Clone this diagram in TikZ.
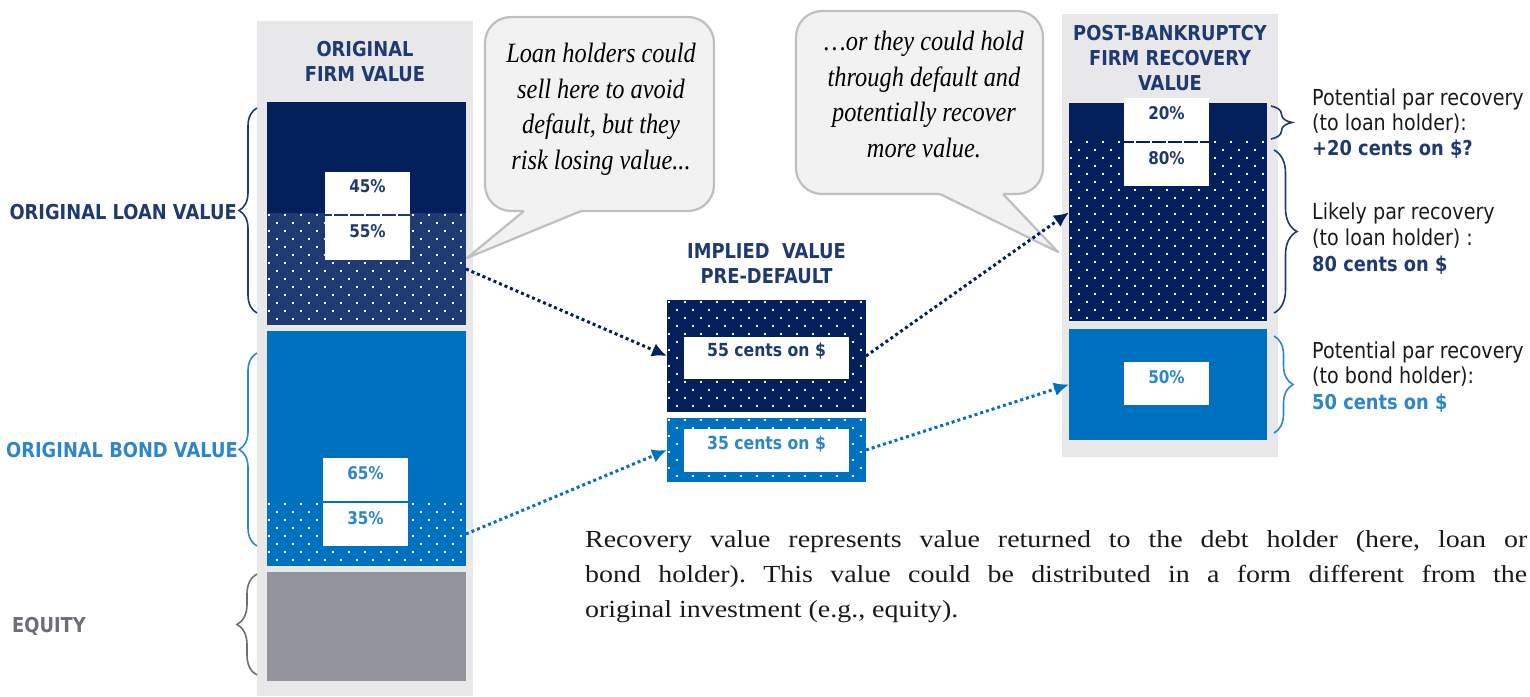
\documentclass[tikz,border=0pt]{standalone}
\usepackage{fontspec}
\usetikzlibrary{arrows.meta,decorations.pathreplacing,fit,calc}

\newfontfamily\labelfont[FakeStretch=0.87]{DejaVu Sans}
\newfontfamily\notefont[FakeStretch=0.87]{Liberation Serif Italic}
\newfontfamily\bodyfont[FakeStretch=1.14]{Liberation Serif}

\definecolor{colbg}{HTML}{E8E8EA}
\definecolor{navy}{HTML}{04205C}
\definecolor{navymid}{HTML}{1F3A72}
\definecolor{bondblue}{HTML}{0070C0}
\definecolor{txtnavy}{HTML}{1F3A70}
\definecolor{txtblue}{HTML}{2E86C8}
\definecolor{eqgray}{HTML}{94949C}
\definecolor{eqtext}{HTML}{6E6E78}
\definecolor{bubblefill}{HTML}{F2F2F2}
\definecolor{bubbleline}{HTML}{BEBEC3}
\definecolor{bodytext}{HTML}{1A1A1A}

% staggered white dot raster clipped to a rectangle: x1 y1 x2 y2
\newcommand\dotfield[4]{%
  \pgfmathsetmacro\dfa{#1+2}\pgfmathsetmacro\dfb{#1+18}%
  \pgfmathsetmacro\dfc{#2+2}\pgfmathsetmacro\dfd{#2+18}%
  \begin{scope}
    \clip (#1,#2) rectangle (#3,#4);
    \foreach \xx in {\dfa,\dfb,...,#3}{%
      \foreach \yy in {\dfc,\dfd,...,#4}{%
        \fill[white] (\xx-1,\yy-1) rectangle (\xx+1,\yy+1);
        \fill[white] (\xx+7,\yy+7) rectangle (\xx+9,\yy+9);}}
  \end{scope}}

% speech bubble: rounded box x1 y1 x2 y2, pointer base xa xb, pointer tip
\newcommand\speechbubble[7]{%
  \draw[bubble,rounded corners=26] (#1,#2) rectangle (#3,#4);
  \fill[bubblefill] (#5,#4-2) rectangle (#6,#4+1.5);
  \fill[bubblefill] (#5,#4) -- (#7) -- (#6,#4) -- cycle;
  \draw[bubble,fill=none] (#5,#4) -- (#7) -- (#6,#4);}

\begin{document}
\begin{tikzpicture}[x=1pt,y=-1pt,
  blk/.style={inner sep=0,outer sep=0,draw=none},
  tag/.style={blk,fill=white,font=\labelfont\bfseries\fontsize{17.5}{19}\selectfont},
  centstag/.style={blk,fill=white,font=\labelfont\bfseries\fontsize{18}{20}\selectfont},
  head/.style={font=\labelfont\bfseries\fontsize{20.5}{25}\selectfont,text=txtnavy,align=center,inner sep=0},
  side/.style={font=\labelfont\bfseries\fontsize{20.5}{25}\selectfont,inner sep=0},
  note/.style={font=\labelfont\fontsize{22}{25}\selectfont,text=bodytext,inner sep=0,anchor=base west},
  notebold/.style={note,font=\labelfont\bfseries\fontsize{20.5}{25}\selectfont},
  flow/.style={line width=3,dash pattern=on 3pt off 3pt,-{Latex[length=15pt,width=14pt]}},
  brc/.style={decorate,decoration={brace,amplitude=#1},line width=1.6},
  bubble/.style={fill=bubblefill,draw=bubbleline,line width=2.2,line join=round},
  quote/.style={font=\notefont\fontsize{28}{35.5}\selectfont,align=center,inner sep=0,anchor=north}]

\useasboundingbox (0,0) rectangle (1530,696);

% ---------- original firm value column ----------
\node[blk,fill=colbg,fit={(257,21) (473,696)}] (origcol) {};
\node[head] (orighead) at (365,61.75) {ORIGINAL\\FIRM VALUE};

\node[blk,fill=navy,fit={(267,102) (466,213)}] (loanTop) {};
\node[blk,fill=navymid,fit={(267,213) (466,325)}] (loanDot) {};
\dotfield{267}{213}{466}{325}
\node[blk,fill=bondblue,fit={(267,331) (466,502)}] (bondTop) {};
\node[blk,fill=bondblue,fit={(267,502) (466,566)}] (bondDot) {};
\dotfield{267}{502}{466}{566}
\node[blk,fill=eqgray,fit={(267,572) (466,681)}] (equity) {};

\node[tag,text=txtnavy,fit={(325,172) (410,214)}] (p45) {45\%};
\node[tag,text=txtnavy,fit={(325,216) (410,260)}] (p55) {55\%};
\node[tag,text=txtblue,fit={(323,458) (408,501)}] (p65) {65\%};
\node[tag,text=txtblue,fit={(323,503) (408,546)}] (p35) {35\%};

% side captions and braces
\node[side,text=txtnavy,anchor=base east] (loanlbl) at (237,219) {ORIGINAL LOAN VALUE};
\node[side,text=txtblue,anchor=base east] (bondlbl) at (238,457) {ORIGINAL BOND VALUE};
\node[side,text=eqtext,anchor=base west] (eqlbl) at (12,632) {EQUITY};
\draw[brc=18,txtnavy] (257,313) -- (257,108);
\draw[brc=18,txtblue] (257,546) -- (257,353);
\draw[brc=20,eqtext] (257,675) -- (257,574);

% ---------- callouts ----------
\coordinate (selltip) at (467,258);
\speechbubble{485}{17}{714}{211}{524}{581}{selltip}
\node[quote] (sellnote) at (601,43)
  {Loan holders could\\sell here to avoid\\default, but they\\risk losing value...};

\coordinate (holdtip) at (1058,252);
\speechbubble{796}{11}{1043}{194}{940}{1003}{holdtip}
\node[quote] (holdnote) at (924,31)
  {…or they could hold\\through default and\\potentially recover\\more value.};

% ---------- implied value pre-default ----------
\node[head] (midhead) at (766.5,263.75) {IMPLIED\ \ VALUE\\PRE-DEFAULT};
\node[blk,fill=navy,fit={(667,300) (866,412)}] (midLoan) {};
\dotfield{667}{300}{866}{412}
\node[blk,fill=bondblue,fit={(667,418) (866,482)}] (midBond) {};
\dotfield{667}{418}{866}{482}
\node[centstag,text=txtnavy,fit={(684,337) (849,379)}] (c55) {55 cents on \$};
\node[centstag,text=txtblue,fit={(684,429) (849,472)}] (c35) {35 cents on \$};

% ---------- post-bankruptcy recovery column ----------
\node[blk,fill=colbg,fit={(1062,14) (1278,457)}] (reccol) {};
\node[head] (rechead) at (1170,58) {POST-BANKRUPTCY\\FIRM RECOVERY\\VALUE};
\node[blk,fill=navy,fit={(1069,103) (1267,140)}] (recLoanTop) {};
\node[blk,fill=navy,fit={(1069,140) (1267,321)}] (recLoanDot) {};
\dotfield{1069}{140}{1267}{321}
\node[blk,fill=bondblue,fit={(1069,329) (1267,440)}] (recBond) {};
\node[tag,text=txtnavy,fit={(1124,98) (1209,141)}] (p20) {20\%};
\node[tag,text=txtnavy,fit={(1124,143) (1209,186)}] (p80) {80\%};
\node[tag,text=txtblue,fit={(1124,362) (1209,405)}] (p50) {50\%};

\draw[brc=21,txtnavy] (1271,106) -- (1271,139);
\draw[brc=23,txtnavy] (1274,150) -- (1274,313);
\draw[brc=19,txtblue] (1274,336) -- (1274,433);

\node[note] (n1a) at (1312,105) {Potential par recovery};
\node[note] (n1b) at (1312,130) {(to loan holder):};
\node[notebold,text=txtnavy] (n1c) at (1312,155) {+20 cents on \$?};
\node[note] (n2a) at (1312,219) {Likely par recovery};
\node[note] (n2b) at (1312,245) {(to loan holder) :};
\node[notebold,text=txtnavy] (n2c) at (1312,271) {80 cents on \$};
\node[note] (n3a) at (1312,358) {Potential par recovery};
\node[note] (n3b) at (1312,383) {(to bond holder):};
\node[notebold,text=txtblue] (n3c) at (1312,409) {50 cents on \$};

% ---------- flows ----------
\draw[flow,navy] (loanDot.east) -- (midLoan.west);
\draw[flow,bondblue] (bondDot.east) -- (midBond.west);
\draw[flow,navy] (midLoan.east) -- ($(recLoanDot.north west)!0.4!(recLoanDot.south west)$);
\draw[flow,bondblue] (midBond.east) -- (recBond.west);

% ---------- footnote ----------
\node[anchor=north west,inner sep=0,text width=942pt,align=justify,text=bodytext,
  font=\bodyfont\fontsize{24.5}{35}\selectfont\frenchspacing] (footnote) at (585,530)
  {Recovery value represents value returned to the debt holder (here, loan or\linebreak
   bond holder). This value could be distributed in a form different from the\linebreak
   original investment (e.g., equity).};

\end{tikzpicture}
\end{document}
